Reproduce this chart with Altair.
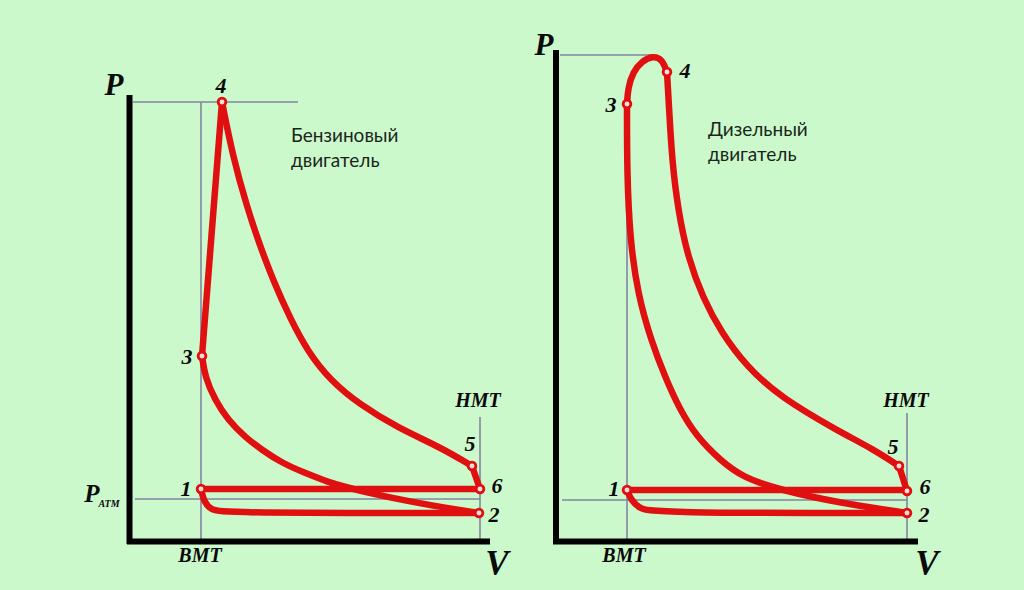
import altair as alt
import pandas as pd

W, H = 1024, 590
BG = "#CCF9CC"
RED = "#E01010"
GRAY = "#8484A0"

# ---- red cycle curves (picture units, y measured downward) ----
curves = {
    "g34": ([202, 222], [356, 102]),
    "g45": ([222, 233, 247, 259, 273, 290, 308, 331, 359, 398, 440, 472],
            [102, 157, 207, 243, 280, 318, 352, 381, 404, 428, 447, 466]),
    "g56": ([472, 480], [466, 489]),
    "g61": ([480, 201], [489, 489]),
    "g12": ([201, 204, 211, 225, 479], [489, 502, 510, 513, 513]),
    "g23": ([202, 205, 215, 228, 245, 262, 282, 305, 328, 345, 378, 413, 447, 479],
            [356, 377, 400, 420, 437, 450, 463, 473, 482, 487, 495, 502, 508, 513]),
    "d34": ([627, 628, 633, 642, 653, 662, 667], [104, 88, 72, 61, 56, 59, 72]),
    "d45": ([667, 669, 672, 678, 688, 703, 721, 747, 780, 838, 873, 899],
            [72, 107, 160, 210, 258, 298, 332, 367, 397, 431, 449, 466]),
    "d56": ([899, 907], [466, 491]),
    "d61": ([907, 627], [490, 490]),
    "d12": ([627, 631, 639, 652, 907], [490, 500, 508, 513, 513]),
    "d23": ([627, 627, 630, 638, 651, 665, 680, 697, 720, 742, 780, 840, 907],
            [104, 173, 240, 295, 340, 377, 410, 437, 460, 477, 490, 503, 513]),
}
straight = ["g34", "g56", "g61", "d56", "d61"]

# state points 1..6
pt_x = [201, 479, 202, 222, 472, 480, 627, 907, 627, 667, 899, 907]
pt_y = [489, 513, 356, 102, 466, 489, 490, 513, 104, 72, 466, 491]

# thin gray guide lines
guide_x1 = [133, 201, 135, 480, 560, 627, 562, 907]
guide_y1 = [102, 102, 499, 417, 55, 105, 500, 413]
guide_x2 = [298, 201, 480, 480, 655, 627, 907, 907]
guide_y2 = [102, 541, 499, 541, 55, 541, 500, 541]

# black axes
axis_x1 = [129.5, 127, 556, 553]
axis_y1 = [95, 541.5, 50, 541.5]
axis_x2 = [129.5, 490, 556, 918]
axis_y2 = [544, 541.5, 544, 541.5]

# labels (serif bold italic)
lab_text = ["P", "4", "3", "1", "2", "5", "6", "НМТ", "ВМТ", "V", "P",
            "P", "3", "4", "1", "6", "2", "5", "НМТ", "ВМТ", "V"]
lab_x = [114, 221, 187, 186, 494, 470, 497, 478, 200, 497, 92,
         544, 611, 685, 614, 925, 924, 893, 906, 624, 927]
lab_y = [86, 86, 357, 489, 515, 444, 486, 401, 556, 564, 494,
         46, 105, 71, 489, 487, 515, 447, 401, 556, 564]
lab_size = [31, 22, 22, 22, 22, 22, 22, 20, 20, 35, 25,
            31, 22, 22, 22, 22, 22, 22, 20, 20, 35]

sub_text = ["ATM"]
sub_x = [109]
sub_y = [504]

cap_text = ["Бензиновый", "двигатель", "Дизельный", "двигатель"]
cap_x = [291, 291, 708, 708]
cap_y = [142, 167, 136, 161]

# ---- build tables ----
rows = []
for seg, (xs_, ys_) in curves.items():
    for i, (xv, yv) in enumerate(zip(xs_, ys_)):
        rows.append({"seg": seg, "ord": i, "x": xv, "y": yv,
                     "kind": "s" if seg in straight else "c"})
curve_df = pd.DataFrame(rows)
pts_df = pd.DataFrame({"x": pt_x, "y": pt_y})
guide_df = pd.DataFrame({"x": guide_x1, "y": guide_y1, "x2": guide_x2, "y2": guide_y2})
axis_df = pd.DataFrame({"x": axis_x1, "y": axis_y1, "x2": axis_x2, "y2": axis_y2})
lab_df = pd.DataFrame({"t": lab_text, "x": lab_x, "y": lab_y, "s": lab_size})
sub_df = pd.DataFrame({"t": sub_text, "x": sub_x, "y": sub_y})
cap_df = pd.DataFrame({"t": cap_text, "x": cap_x, "y": cap_y})

xs = alt.Scale(domain=[0, W], nice=False, zero=False)
ys = alt.Scale(domain=[0, H], nice=False, zero=False, reverse=True)
X = alt.X("x:Q", scale=xs, axis=None)
Y = alt.Y("y:Q", scale=ys, axis=None)

guides = alt.Chart(guide_df).mark_rule(color=GRAY, strokeWidth=1.6).encode(
    x=X, y=Y, x2="x2:Q", y2="y2:Q")
axes = alt.Chart(axis_df).mark_rule(color="black", strokeWidth=6).encode(
    x=X, y=Y, x2="x2:Q", y2="y2:Q")
line_style = dict(color=RED, strokeWidth=6.5, strokeCap="round", strokeJoin="round")
curved = alt.Chart(curve_df).transform_filter(alt.datum.kind == "c").mark_line(
    interpolate="basis", **line_style).encode(x=X, y=Y, detail="seg:N", order="ord:Q")
lines = alt.Chart(curve_df).transform_filter(alt.datum.kind == "s").mark_line(
    interpolate="linear", **line_style).encode(x=X, y=Y, detail="seg:N", order="ord:Q")
points = alt.Chart(pts_df).mark_point(
    shape="circle", filled=True, fill="#F6DCDC", stroke=RED, strokeWidth=2.8,
    size=60, opacity=1).encode(x=X, y=Y)
labels = alt.Chart(lab_df).mark_text(
    font="Liberation Serif", fontWeight="bold", fontStyle="italic",
    color="#0A0A0A", align="center", baseline="middle").encode(
    x=X, y=Y, text="t:N", size=alt.Size("s:Q", scale=None, legend=None))
subs = alt.Chart(sub_df).mark_text(
    font="Liberation Serif", fontWeight="bold", fontStyle="italic",
    color="#0A0A0A", align="center", baseline="middle", fontSize=10).encode(
    x=X, y=Y, text="t:N")
caps = alt.Chart(cap_df).mark_text(
    font="Lato", fontSize=19, color="#1A261A", align="left",
    baseline="alphabetic").encode(x=X, y=Y, text="t:N")

chart = alt.layer(guides, axes, curved, lines, points, labels, subs, caps).properties(
    width=W, height=H, padding=0, autosize="none", background=BG
).configure_view(stroke=None)

chart.save("out.html", embed_options={"renderer": "svg", "actions": False})
